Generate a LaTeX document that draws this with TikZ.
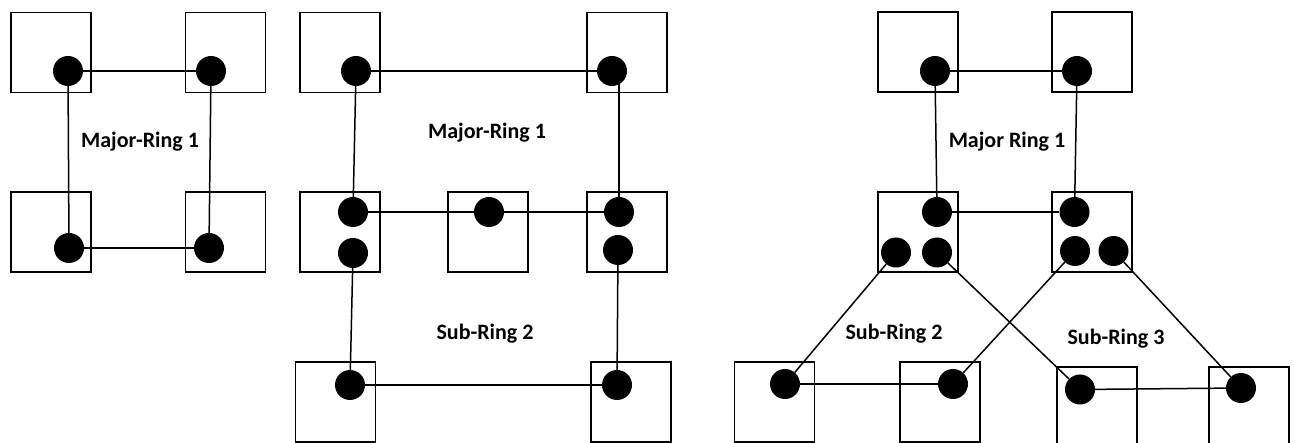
\documentclass[tikz,border=0pt]{standalone}
\usepackage{fontspec}
\setmainfont{Carlito}
\usepackage{tikz}

\begin{document}
\begin{tikzpicture}[x=1pt, y=-1pt,
    box/.style={draw, line width=1.7pt, minimum size=80pt, inner sep=0pt},
    dot/.style={circle, fill=black, minimum size=30pt, inner sep=0pt},
    link/.style={line width=1.5pt},
    ringlabel/.style={font=\fontsize{22}{26}\selectfont\bfseries}]
    \useasboundingbox (0,0) rectangle (1294,443);

    \node [box] (a1) at (51.2,52.5) {};
    \node [box] (a2) at (225.5,52.5) {};
    \node [box] (a3) at (51.2,232) {};
    \node [box] (a4) at (225.5,232) {};

    \node [box] (b1) at (339.8,52.5) {};
    \node [box] (b2) at (626.7,52.5) {};
    \node [box] (b3) at (339.8,232.2) {};
    \node [box] (b4) at (487.8,232.2) {};
    \node [box] (b5) at (626.7,232.2) {};
    \node [box] (b6) at (335.5,402.2) {};
    \node [box] (b7) at (631,402) {};

    \node [box] (c1) at (917.7,52.3) {};
    \node [box] (c2) at (1092.3,52.3) {};
    \node [box] (c3) at (917.7,232) {};
    \node [box] (c4) at (1092.3,232) {};
    \node [box] (c5) at (774.5,402.3) {};
    \node [box] (c6) at (940,402.3) {};
    \node [box] (c7) at (1097,407) {};
    \node [box] (c8) at (1249.2,407) {};

    \node [dot] (ad1) at (68,71) {};
    \node [dot] (ad2) at (211,71) {};
    \node [dot] (ad3) at (69,248) {};
    \node [dot] (ad4) at (209,248) {};

    \node [dot] (bd1) at (356,71) {};
    \node [dot] (bd2) at (612,71) {};
    \node [dot] (bd3) at (353,212) {};
    \node [dot] (bd4) at (353,253) {};
    \node [dot] (bd5) at (489,212) {};
    \node [dot] (bd6) at (619,212) {};
    \node [dot] (bd7) at (618,250) {};
    \node [dot] (bd8) at (350,385) {};
    \node [dot] (bd9) at (617,385) {};

    \node [dot] (cd1) at (935,71) {};
    \node [dot] (cd2) at (1077,71) {};
    \node [dot] (cd3) at (937,212) {};
    \node [dot] (cd4) at (896,252.5) {};
    \node [dot] (cd5) at (937,252.5) {};
    \node [dot] (cd6) at (1074.5,212) {};
    \node [dot] (cd7) at (1075,251) {};
    \node [dot] (cd8) at (1113.5,251) {};
    \node [dot] (cd9) at (785,384) {};
    \node [dot] (cd10) at (953,384) {};
    \node [dot] (cd11) at (1080,389.5) {};
    \node [dot] (cd12) at (1241,388) {};

    \draw [link] (ad1) -- (ad2);
    \draw [link] (ad1) -- (ad3);
    \draw [link] (ad2) -- (ad4);
    \draw [link] (ad3) -- (ad4);

    \draw [link] (bd1) -- (bd2);
    \draw [link] (bd1) -- (bd3);
    \draw [link] (bd6 |- bd2) -- (bd6);
    \draw [link] (bd3) -- (bd5);
    \draw [link] (bd5) -- (bd6);
    \draw [link] (bd4) -- (bd8);
    \draw [link] (bd7) -- (bd9);
    \draw [link] (bd8) -- (bd9);

    \draw [link] (cd1) -- (cd2);
    \draw [link] (cd1) -- (cd3);
    \draw [link] (cd2) -- (cd6);
    \draw [link] (cd3) -- (cd6);
    \draw [link] (cd4) -- (cd9);
    \draw [link] (cd5) -- (cd11);
    \draw [link] (cd7) -- (cd10);
    \draw [link] (cd8) -- (cd12);
    \draw [link] (cd9) -- (cd10);
    \draw [link] (cd11) -- (cd12);

    \node [ringlabel] (la) at (140,142) {Major-Ring 1};
    \node [ringlabel] (lb1) at (487,133) {Major-Ring 1};
    \node [ringlabel] (lb2) at (485,334) {Sub-Ring 2};
    \node [ringlabel] (lc1) at (1007,142) {Major Ring 1};
    \node [ringlabel] (lc2) at (894,334) {Sub-Ring 2};
    \node [ringlabel] (lc3) at (1116,339) {Sub-Ring 3};
\end{tikzpicture}
\end{document}
